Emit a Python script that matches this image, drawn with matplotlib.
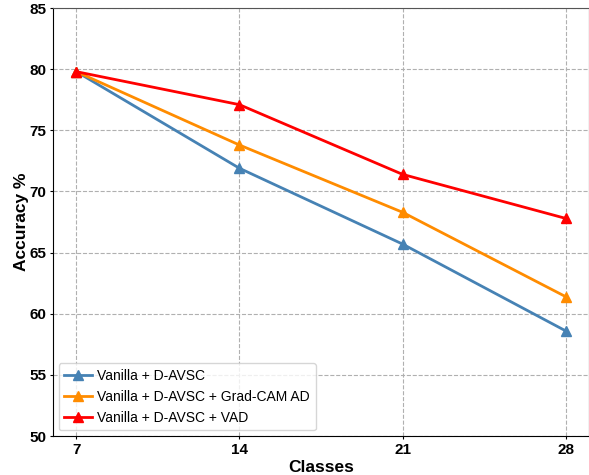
import matplotlib.pyplot as plt

plt.rcParams['font.family'] = ['Liberation Sans', 'DejaVu Sans']

classes = [7, 14, 21, 28]
vanilla = [79.8, 71.9, 65.7, 58.6]
gradcam = [79.8, 73.8, 68.3, 61.4]
vad = [79.8, 77.1, 71.4, 67.8]

fig = plt.figure(figsize=(5.89, 4.75), dpi=100)
ax = fig.add_axes([0.09, 0.082, 0.91, 0.901])

ax.plot(classes, vanilla, color='steelblue', marker='^', linewidth=2, markersize=6.5, label='Vanilla + D-AVSC')
ax.plot(classes, gradcam, color='darkorange', marker='^', linewidth=2, markersize=6.5, label='Vanilla + D-AVSC + Grad-CAM AD')
ax.plot(classes, vad, color='red', marker='^', linewidth=2, markersize=6.5, label='Vanilla + D-AVSC + VAD')

ax.set_xlim(6, 29)
ax.set_ylim(50, 85)
ax.set_xticks(classes)
ax.set_yticks(range(50, 86, 5))
ax.grid(True, linestyle='--', color='#b0b0b0', linewidth=0.8)
ax.set_axisbelow(True)
ax.tick_params(length=2, pad=3)
for lbl in ax.get_xticklabels() + ax.get_yticklabels():
    lbl.set_fontweight('bold')
    lbl.set_fontsize(11)
ax.set_xlabel('Classes', fontsize=12.5, fontweight='bold', labelpad=2)
ax.set_ylabel('Accuracy %', fontsize=12.5, fontweight='bold', labelpad=0)
ax.spines['top'].set_color('#555555')
ax.legend(loc='lower left', fontsize=10, handlelength=2, handletextpad=0.4,
          borderaxespad=0.4)

fig.savefig('out.png', dpi=100)
